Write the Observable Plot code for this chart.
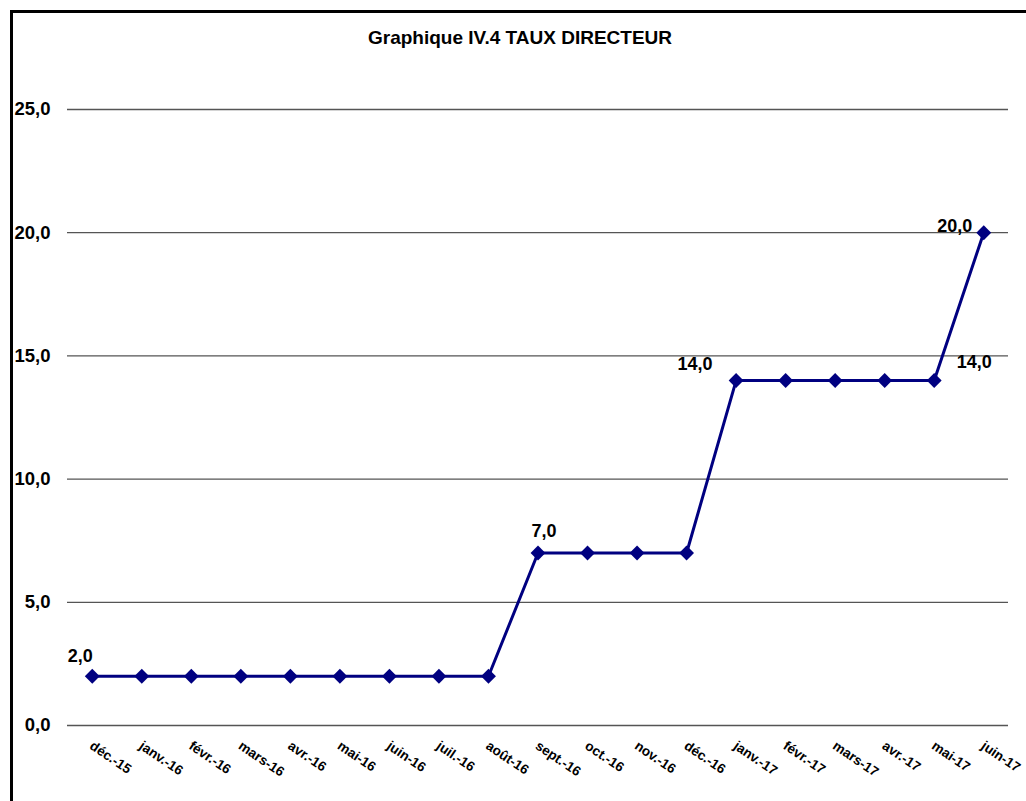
<!DOCTYPE html>
<html>
<head>
<meta charset="utf-8">
<script src="https://cdn.jsdelivr.net/npm/d3@7"></script>
<script src="https://cdn.jsdelivr.net/npm/@observablehq/plot@0.6"></script>
<style>
  html, body { margin: 0; padding: 0; background: #fff; overflow: hidden; }
  #wrap { position: relative; width: 1026px; height: 801px; }
  #frame { position: absolute; left: 10px; top: 10px; width: 1030px; height: 800px;
           border-left: 3px solid #000; border-top: 3px solid #000; box-sizing: border-box; }
  #title { position: absolute; left: 0; top: 27px; width: 1040px; text-align: center;
           font: bold 19px "Liberation Sans", Arial, sans-serif; color: #000; }
  #chart { position: absolute; left: 0; top: 0; }
</style>
</head>
<body>
<div id="wrap">
  <div id="frame"></div>
  <div id="title">Graphique IV.4 TAUX DIRECTEUR</div>
  <div id="chart"></div>
</div>
<script>
const months = ["déc.-15","janv.-16","févr.-16","mars-16","avr.-16","mai-16","juin-16","juil.-16","août-16","sept.-16","oct.-16","nov.-16","déc.-16","janv.-17","févr.-17","mars-17","avr.-17","mai-17","juin-17"];
const rates = [2,2,2,2,2,2,2,2,2,7,7,7,7,14,14,14,14,14,20];
const yTicks = [0,5,10,15,20,25];

const data = months.map((m, i) => ({month: m, rate: rates[i]}));
const fmt = d => d.toFixed(1).replace(".", ",");
const font = "Liberation Sans, Arial, sans-serif";
const lbl = (idx, dx, dy, anchor) => Plot.text(data, {
  filter: (d, i) => i === idx, x: "month", y: "rate", text: d => fmt(d.rate),
  dx, dy, textAnchor: anchor || "middle", fontSize: 18, fontWeight: "bold", fill: "#000"
});

const chart = Plot.plot({
  width: 1026,
  height: 801,
  marginLeft: 67,
  marginRight: 18,
  marginTop: 109,
  marginBottom: 76,
  style: {fontFamily: font, background: "transparent", overflow: "visible"},
  x: {type: "point", domain: months, padding: 0.5, round: false, axis: null},
  y: {domain: [0, 25], axis: null},
  marks: [
    Plot.gridY(yTicks, {stroke: "#555", strokeOpacity: 1, strokeWidth: 1.3}),
    Plot.axisY(yTicks, {tickSize: 0, tickPadding: 17, tickFormat: fmt, fontSize: 18.5, fontWeight: "bold", fill: "#000", label: null}),
    Plot.text(months, {x: d => d, y: () => 0, text: d => d, rotate: 34, textAnchor: "start", lineAnchor: "middle",
      dx: -1, dy: 19, fontSize: 13.5, fontWeight: "bold", fill: "#000"}),
    Plot.line(data, {x: "month", y: "rate", stroke: "#000080", strokeWidth: 3}),
    Plot.dot(data, {x: "month", y: "rate", symbol: "diamond2", r: 6.7, fill: "#000080", stroke: "none"}),
    lbl(0, -12, -20),
    lbl(9, 6, -22),
    lbl(13, -41, -16),
    lbl(17, 40, -18),
    lbl(18, -29, -6)
  ]
});
document.getElementById("chart").appendChild(chart);
</script>
</body>
</html>
